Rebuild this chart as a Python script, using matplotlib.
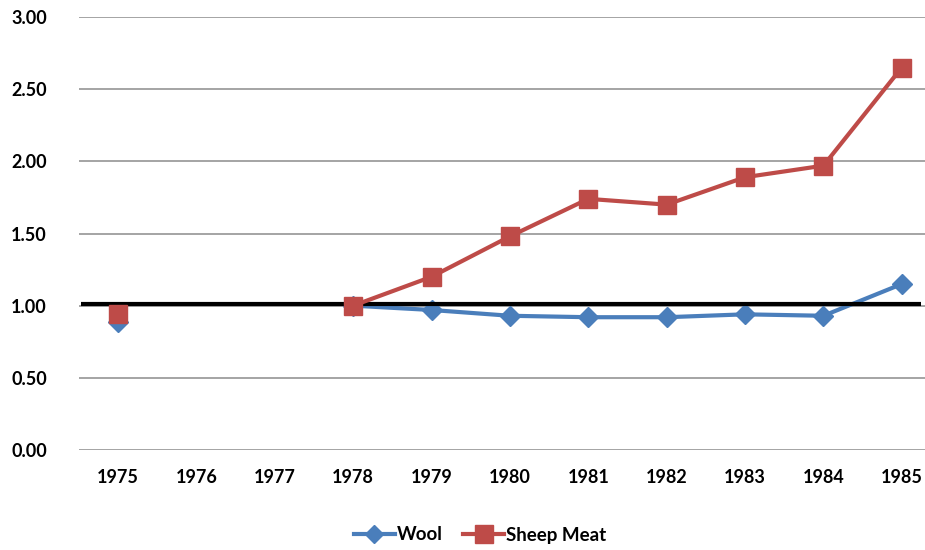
import numpy as np
import matplotlib.pyplot as plt

years = ["1975", "1976", "1977", "1978", "1979", "1980", "1981", "1982", "1983", "1984", "1985"]
wool = [0.89, np.nan, np.nan, 1.00, 0.97, 0.93, 0.92, 0.92, 0.94, 0.93, 1.15]
sheep_meat = [0.94, np.nan, np.nan, 1.00, 1.20, 1.48, 1.74, 1.70, 1.89, 1.97, 2.65]
yticks = [0.0, 0.5, 1.0, 1.5, 2.0, 2.5, 3.0]
baseline = 1.015

plt.rcParams['font.family'] = ['Lato', 'DejaVu Sans']

fig = plt.figure(figsize=(9.25, 5.5), dpi=100)
ax = fig.add_axes([78.8 / 925, 1 - 450 / 550, (941 - 78.8) / 925, (450 - 17) / 550])

x = np.arange(len(years))
blue = "#4a7ebb"
red = "#be4b48"

ax.set_ylim(0, 3.0)
ax.set_xlim(-0.5, len(years) - 0.5)
ax.set_yticks(yticks)
ax.set_yticklabels([f"{v:.2f}" for v in yticks])
ax.set_xticks(x)
ax.set_xticklabels(years)
ax.grid(axis='y', color='#8c8c8c', linewidth=1.1)
ax.set_axisbelow(True)
for s in ax.spines.values():
    s.set_visible(False)
ax.tick_params(length=0, labelsize=13)
for lab in ax.get_xticklabels() + ax.get_yticklabels():
    lab.set_fontweight('bold')
ax.tick_params(axis='y', pad=23)
ax.tick_params(axis='x', pad=14)

wl, = ax.plot(x, wool, color=blue, lw=3, marker='D', ms=10, label='Wool', zorder=3)
sl, = ax.plot(x, sheep_meat, color=red, lw=3, marker='s', ms=13, label='Sheep Meat', zorder=4)

# reference line at parity
ax.plot([-0.47, 10.24], [baseline, baseline], color='black', lw=3, zorder=3.5, solid_capstyle='butt')

leg = fig.legend(handles=[wl, sl], loc='center', bbox_to_anchor=(480 / 925, 1 - 535 / 550),
                 ncol=2, frameon=False, prop={'weight': 'bold', 'size': 13.5},
                 handlelength=2.2, handletextpad=0.1, columnspacing=1.1, markerscale=0.95)

fig.savefig("out.png", dpi=100)
